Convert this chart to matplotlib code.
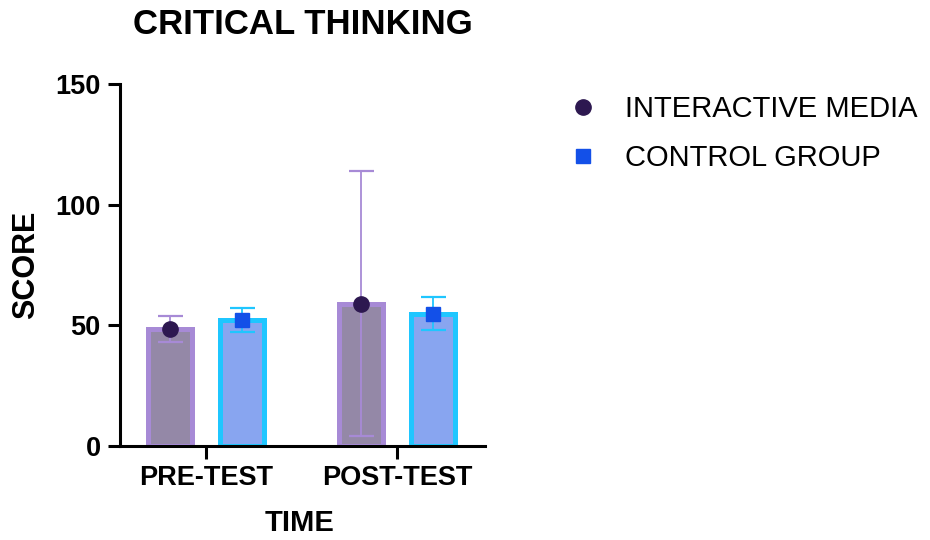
import numpy as np
import matplotlib
matplotlib.use("Agg")
import matplotlib.pyplot as plt
from matplotlib.lines import Line2D

plt.rcParams['font.family'] = ['Liberation Sans', 'DejaVu Sans']

# group means and error bar half-widths
categories = ["PRE-TEST", "POST-TEST"]
interactive_mean = [48.5, 59.0]
interactive_err = [5.4, 55.0]
control_mean = [52.3, 54.9]
control_err = [5.0, 6.8]

yticks = [0, 50, 100, 150]

fig = plt.figure(figsize=(9.3, 5.4), dpi=100)
ax = fig.add_axes([120 / 930, 94 / 540, 365 / 930, 362 / 540])

x = np.arange(len(categories))
off = 0.19
w = 0.23

ax.bar(x - off, interactive_mean, width=w, color="#9488A7", edgecolor="#A78AD6",
       linewidth=3.6, zorder=2)
ax.bar(x + off, control_mean, width=w, color="#88A5F0", edgecolor="#1FC6FF",
       linewidth=3.6, zorder=2)

ax.errorbar(x - off, interactive_mean, yerr=interactive_err, fmt="none",
            ecolor="#A78AD6", elinewidth=1.3, capsize=9, capthick=1.6, zorder=3)
ax.errorbar(x + off, control_mean, yerr=control_err, fmt="none",
            ecolor="#1FC6FF", elinewidth=1.3, capsize=9, capthick=1.6, zorder=3)

ax.plot(x - off, interactive_mean, "o", color="#2D1850", markersize=11, zorder=4)
ax.plot(x + off, control_mean, "s", color="#1350E8", markersize=10, zorder=4)

ax.set_xlim(-0.45, 1.46)
ax.set_ylim(0, 150)
ax.set_yticks(yticks)
ax.set_xticks(x)
ax.set_xticklabels(categories)

for side in ["top", "right"]:
    ax.spines[side].set_visible(False)
for side in ["left", "bottom"]:
    ax.spines[side].set_linewidth(2.2)

ax.tick_params(axis="both", width=2.2, length=9, labelsize=19.5, pad=5)
for lbl in ax.get_xticklabels() + ax.get_yticklabels():
    lbl.set_fontweight("bold")

ax.set_title("CRITICAL THINKING", fontsize=25, fontweight="bold", pad=36)
ax.set_ylabel("SCORE", fontsize=22, fontweight="bold")
ax.set_xlabel("TIME", fontsize=21, fontweight="bold")
ax.yaxis.set_label_coords(-0.215, 0.5)
ax.xaxis.set_label_coords(0.493, -0.175)

handles = [
    Line2D([], [], marker="o", linestyle="none", color="#2D1850", markersize=11),
    Line2D([], [], marker="s", linestyle="none", color="#1350E8", markersize=10),
]
fig.legend(handles, ["INTERACTIVE MEDIA", "CONTROL GROUP"], loc="upper left",
           bbox_to_anchor=(568 / 930, 1 - 95 / 540), frameon=False,
           fontsize=21, handlelength=1.0, handletextpad=0.95,
           labelspacing=0.72, borderpad=0, borderaxespad=0)

fig.savefig("out.png", dpi=100)
